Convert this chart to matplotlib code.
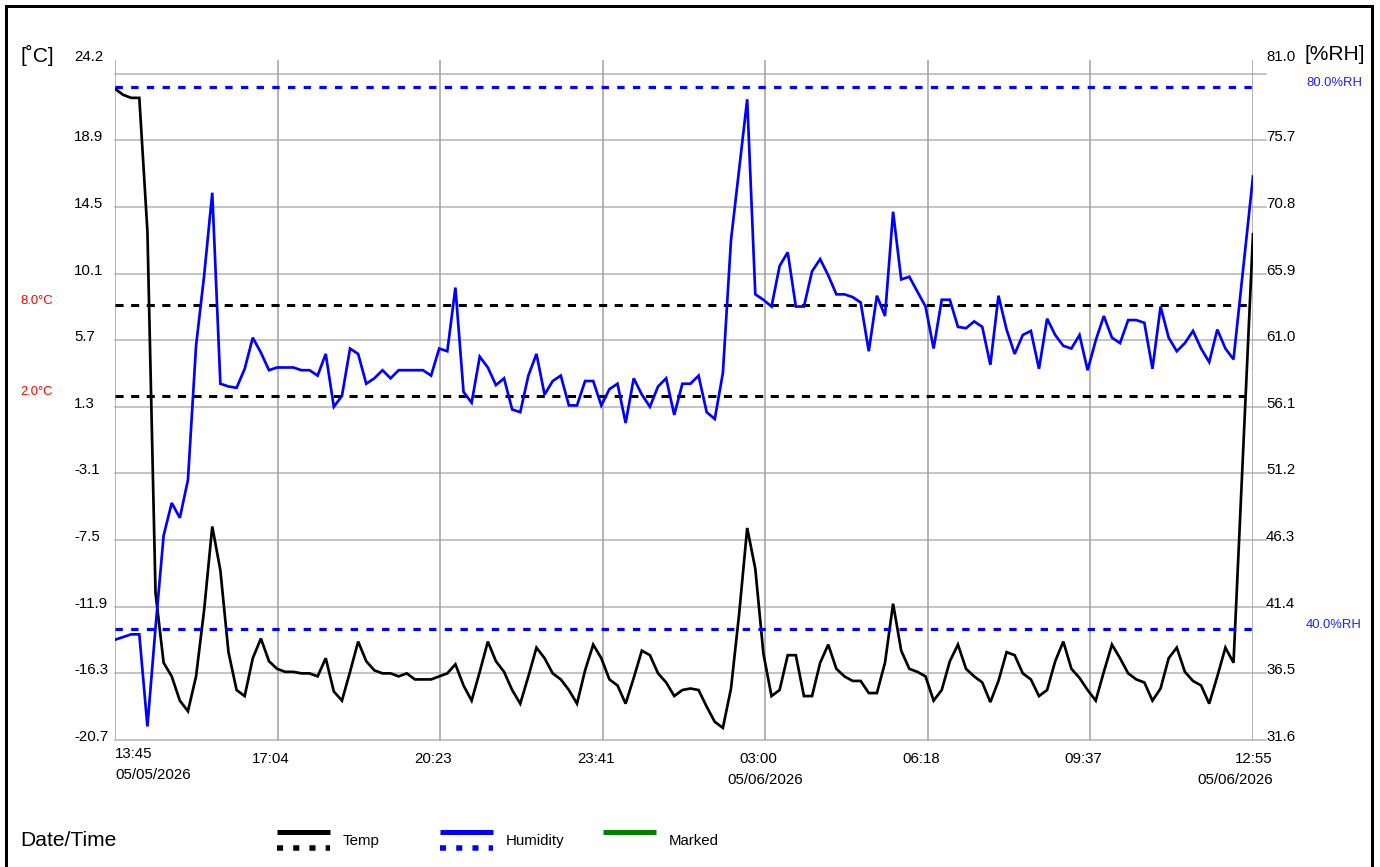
import numpy as np
import matplotlib
matplotlib.use("Agg")
import matplotlib.pyplot as plt
from matplotlib import transforms
from matplotlib.lines import Line2D

plt.rcParams['font.family'] = ['Liberation Sans', 'DejaVu Sans']

# ---------------- data ----------------
temp = [22.3, 21.9, 21.7, 21.7, 12.9, -11.0, -15.6, -16.5, -18.1, -18.8,
        -16.5, -12.1, -6.6, -9.5, -14.9, -17.4, -17.8, -15.3, -14.0, -15.5,
        -16.0, -16.2, -16.2, -16.3, -16.3, -16.5, -15.3, -17.5, -18.1, -16.2,
        -14.2, -15.5, -16.1, -16.3, -16.3, -16.5, -16.3, -16.7, -16.7, -16.7,
        -16.5, -16.3, -15.7, -17.1, -18.1, -16.2, -14.2, -15.5, -16.2, -17.4,
        -18.3, -16.5, -14.6, -15.3, -16.3, -16.7, -17.4, -18.3, -16.1, -14.4,
        -15.3, -16.7, -17.1, -18.3, -16.6, -14.8, -15.1, -16.3, -16.9, -17.8,
        -17.4, -17.3, -17.4, -18.5, -19.5, -19.9, -17.3, -12.4, -6.7, -9.4,
        -15.0, -17.8, -17.4, -15.1, -15.1, -17.8, -17.8, -15.6, -14.4, -16.0,
        -16.5, -16.8, -16.8, -17.6, -17.6, -15.6, -11.7, -14.8, -16.0, -16.2,
        -16.5, -18.1, -17.4, -15.5, -14.4, -16.0, -16.5, -16.9, -18.2, -16.8,
        -14.9, -15.1, -16.3, -16.7, -17.8, -17.4, -15.5, -14.2, -16.0, -16.6,
        -17.4, -18.1, -16.2, -14.4, -15.3, -16.3, -16.7, -16.9, -18.1, -17.3,
        -15.3, -14.6, -16.2, -16.8, -17.1, -18.3, -16.5, -14.6, -15.6, 12.7]

humidity = [39.2, 39.4, 39.6, 39.6, 32.8, 40.1, 46.9, 49.3, 48.2, 51.0,
            60.9, 66.1, 72.2, 58.1, 57.9, 57.8, 59.2, 61.5, 60.4, 59.1,
            59.3, 59.3, 59.3, 59.1, 59.1, 58.7, 60.3, 56.4, 57.2, 60.7,
            60.3, 58.1, 58.5, 59.1, 58.5, 59.1, 59.1, 59.1, 59.1, 58.7,
            60.7, 60.5, 65.2, 57.5, 56.7, 60.1, 59.3, 58.0, 58.5, 56.2,
            56.0, 58.7, 60.3, 57.3, 58.3, 58.7, 56.5, 56.5, 58.3, 58.3,
            56.5, 57.7, 58.1, 55.2, 58.5, 57.3, 56.4, 57.9, 58.5, 55.8,
            58.1, 58.1, 58.7, 56.0, 55.5, 58.9, 68.7, 73.9, 79.1, 64.7,
            64.3, 63.8, 66.8, 67.8, 63.8, 63.8, 66.4, 67.3, 66.1, 64.7,
            64.7, 64.5, 64.1, 60.5, 64.6, 63.1, 70.8, 65.8, 66.0, 64.9,
            63.8, 60.7, 64.3, 64.3, 62.3, 62.2, 62.7, 62.3, 59.5, 64.6,
            62.1, 60.3, 61.7, 62.0, 59.2, 62.9, 61.7, 60.9, 60.7, 61.7,
            59.1, 61.3, 63.1, 61.5, 61.1, 62.8, 62.8, 62.6, 59.2, 63.8,
            61.5, 60.5, 61.1, 62.0, 60.7, 59.7, 62.1, 60.7, 59.9, 73.4]

sample_interval_min = 9.9      # logging interval of the regular readings
span_min = 1390                # 13:45 05/05/2026 -> 12:55 05/06/2026

time_labels = ["13:45", "17:04", "20:23", "23:41", "03:00", "06:18", "09:37", "12:55"]
date_labels = {0: "05/05/2026", 4: "05/06/2026", 7: "05/06/2026"}

temp_gridlines = [-20.7, -16.3, -11.9, -7.5, -3.1, 1.3, 5.7, 10.1, 14.5, 18.9, 23.3]
temp_tick_labels = ["-20.7", "-16.3", "-11.9", "-7.5", "-3.1", "1.3", "5.7", "10.1", "14.5", "18.9"]
temp_range = (-20.7, 24.2)
rh_tick_labels = ["31.6", "36.5", "41.4", "46.3", "51.2", "56.1", "61.0", "65.9", "70.8", "75.7"]
rh_top_label = "81.0"
rh_range = (31.8, 82.0)

temp_alarms = [8.0, 2.0]
rh_alarms = [80.0, 40.0]

# ---------------- figure ----------------
W, H = 1380, 867
fig = plt.figure(figsize=(W / 100, H / 100), dpi=100)


def fx(px):
    return px / W


def fy(py):
    return 1 - py / H


def pt(px):
    return px * 0.72


ax = fig.add_axes([fx(115), fy(740), fx(1253) - fx(115), fy(60) - fy(740)])
ax.set_xlim(0, span_min)
ax.set_ylim(*temp_range)
ax2 = ax.twinx()
ax2.set_ylim(*rh_range)
for a in (ax, ax2):
    for s in a.spines.values():
        s.set_visible(False)
    a.set_xticks([])
    a.set_yticks([])
    a.patch.set_visible(False)

n_reg = len(temp) - 1
times = list(np.arange(n_reg) * sample_interval_min) + [span_min]

# grid
ytrans = ax.get_yaxis_transform()
for v in temp_gridlines:
    ax.plot([0, 1.0114], [v, v], transform=ytrans, color='#b4b4b4', lw=1.1,
            clip_on=False, zorder=0)
xticks = np.linspace(0, span_min, len(time_labels))
for t in xticks:
    ax.axvline(t, color='#a0a0a0', lw=1.1, zorder=0)

# alarm lines
x0, x1 = times[0], times[-1]
for v in temp_alarms:
    ax.plot([x0, x1], [v, v], color='black', lw=pt(3), dashes=(2.7, 2.5), zorder=2)
for v in rh_alarms:
    ax2.plot([x0, x1], [v, v], color='#0000ff', lw=pt(3.2), dashes=(2.3, 2.6), zorder=2)

# data
ax.plot(times, temp, color='black', lw=pt(2.7), zorder=3, solid_joinstyle='miter')
ax2.plot(times, humidity, color='#0000ff', lw=pt(2.7), zorder=3, solid_joinstyle='miter')

# y tick labels
fs = pt(15)
lab_tr_l = transforms.offset_copy(
    transforms.blended_transform_factory(fig.transFigure, ax.transData), fig=fig, x=0, y=3, units='dots')
for v, s in zip(temp_gridlines, temp_tick_labels):
    ax.text(fx(74), v, s, transform=lab_tr_l, ha='left', va='center', fontsize=fs)
    pass
ax.text(fx(74), temp_range[1], f"{temp_range[1]:.1f}", transform=lab_tr_l, ha='left', va='center', fontsize=fs)
for v, s in zip(temp_gridlines, rh_tick_labels):
    ax.text(fx(1266), v, s, transform=lab_tr_l, ha='left', va='center', fontsize=fs)
ax.text(fx(1266), temp_range[1], rh_top_label, transform=lab_tr_l, ha='left', va='center', fontsize=fs)

# unit labels
fig.text(fx(20), fy(55), "[˚C]", ha='left', va='center', fontsize=pt(21))
fig.text(fx(1305), fy(55), "[%RH]", ha='left', va='center', fontsize=pt(21))

# alarm labels
al_tr_l = transforms.offset_copy(
    transforms.blended_transform_factory(fig.transFigure, ax.transData), fig=fig, x=0, y=4, units='dots')
al_tr_r = transforms.offset_copy(
    transforms.blended_transform_factory(fig.transFigure, ax2.transData), fig=fig, x=0, y=4, units='dots')
for v in temp_alarms:
    ax.text(fx(20), v, f"{v:.1f}°C", transform=al_tr_l, ha='left', va='center',
            fontsize=pt(13), color='#ff0000')
for v in rh_alarms:
    ax2.text(fx(1306), v, f"{v:.1f}%RH", transform=al_tr_r, ha='left', va='center',
             fontsize=pt(13), color='#2020ff')

# x tick labels
xtr = transforms.blended_transform_factory(ax.transData, fig.transFigure)
last = len(time_labels) - 1
for i, (t, s) in enumerate(zip(xticks, time_labels)):
    if i == 0:
        ax.text(t, fy(754), s, transform=xtr, ha='left', va='center', fontsize=fs)
        ax.text(t, fy(775), date_labels[i], transform=xtr, ha='left', va='center', fontsize=fs)
    elif i == last:
        tr = transforms.offset_copy(xtr, fig=fig, x=20, y=0, units='dots')
        ax.text(t, fy(759), s, transform=tr, ha='right', va='center', fontsize=fs)
        ax.text(t, fy(780), date_labels[i], transform=tr, ha='right', va='center', fontsize=fs)
    else:
        tr = transforms.offset_copy(xtr, fig=fig, x=-7, y=0, units='dots')
        ax.text(t, fy(759), s, transform=tr, ha='center', va='center', fontsize=fs)
        if i in date_labels:
            ax.text(t, fy(780), date_labels[i], transform=xtr, ha='center', va='center', fontsize=fs)

# bottom legend
fig.text(fx(20), fy(840), "Date/Time", ha='left', va='center', fontsize=pt(21))
legend_items = [("Temp", 'black', True), ("Humidity", '#0000ff', True), ("Marked", '#008000', False)]
for k, (name, col, dotted) in enumerate(legend_items):
    xs = 277 + k * 163
    fig.add_artist(Line2D([fx(xs), fx(xs + 53)], [fy(832), fy(832)], color=col,
                          lw=pt(5), solid_capstyle='butt', transform=fig.transFigure))
    if dotted:
        fig.add_artist(Line2D([fx(xs), fx(xs + 53)], [fy(848), fy(848)], color=col,
                              lw=pt(5.5), dashes=(1.1, 1.85), dash_capstyle='butt',
                              transform=fig.transFigure))
    fig.text(fx(xs + 66), fy(841), name, ha='left', va='center', fontsize=pt(15))

# outer frame (open at the bottom)
for xs_, ys_ in [([5.5, 5.5], [H, 6]), ([5.5, 1371.5], [6, 6]), ([1371.5, 1371.5], [6, H])]:
    fig.add_artist(Line2D([fx(x) for x in xs_], [fy(y) for y in ys_], color='black',
                          lw=pt(3), solid_capstyle='projecting', transform=fig.transFigure))

fig.savefig("out.png", dpi=100)
